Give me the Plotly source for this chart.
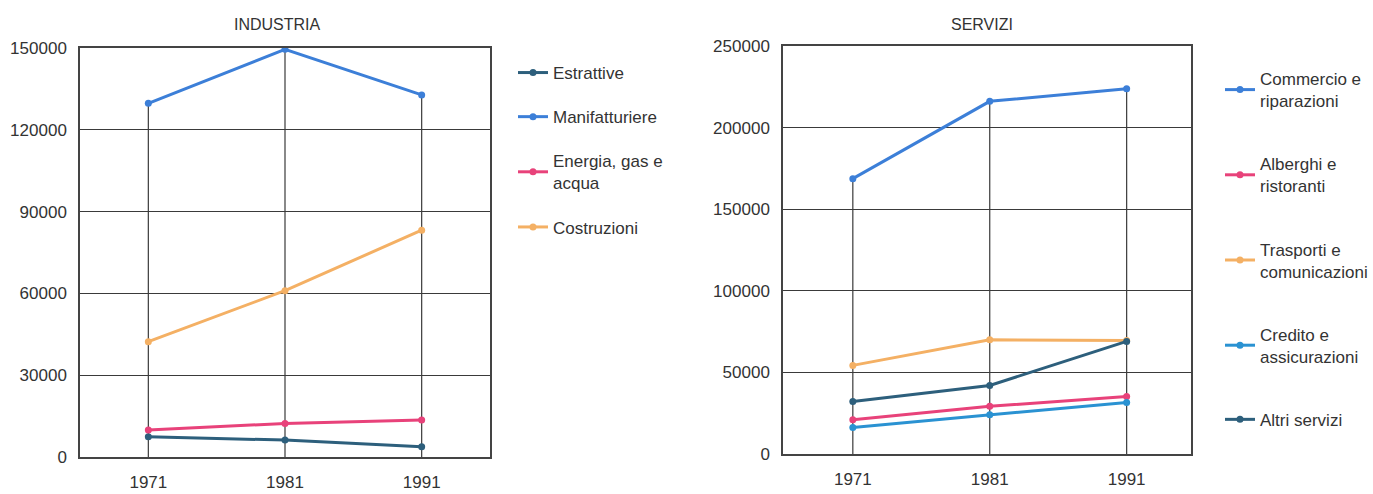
import plotly.graph_objects as go

# ---------------- data ----------------
years = [1971, 1981, 1991]

ind_names = ["Estrattive", "Manifatturiere", "Energia, gas e<br>acqua", "Costruzioni"]
estrattive = [7400, 6200, 3800]
manifatturiere = [129700, 149500, 132800]
energia = [9900, 12300, 13600]
costruzioni = [42300, 61000, 83200]

ser_names = ["Commercio e<br>riparazioni", "Alberghi e<br>ristoranti", "Trasporti e<br>comunicazioni",
             "Credito e<br>assicurazioni", "Altri servizi"]
commercio = [168700, 216100, 223800]
alberghi = [21000, 29200, 35300]
trasporti = [54300, 70000, 69600]
credito = [16300, 24100, 31600]
altri = [32200, 42000, 69000]

ind_ticks = [0, 30000, 60000, 90000, 120000, 150000]
ser_ticks = [0, 50000, 100000, 150000, 200000, 250000]

# ---------------- style ----------------
FONT = "Liberation Sans, Arial, sans-serif"
TXT = "#333333"
GRID = "#3a3a3a"
C_DARK = "#2d5f7c"
C_BLUE = "#3c7fd8"
C_PINK = "#e8427a"
C_ORANGE = "#f4b064"
C_CYAN = "#2a92d2"

W, H = 1373, 494

fig = go.Figure()


def droplines(series_list, xa, ya):
    xs, ys = [], []
    for i, yr in enumerate(years):
        top = max(s[i] for s in series_list)
        xs += [yr, yr, None]
        ys += [0, top, None]
    fig.add_trace(go.Scatter(x=xs, y=ys, mode="lines", xaxis=xa, yaxis=ya,
                             line=dict(color=GRID, width=1.2), showlegend=False,
                             hoverinfo="skip"))


# left panel
ind_series = [estrattive, manifatturiere, energia, costruzioni]
ind_colors = [C_DARK, C_BLUE, C_PINK, C_ORANGE]
droplines(ind_series, "x", "y")
for name, s, c in zip(ind_names, ind_series, ind_colors):
    fig.add_trace(go.Scatter(x=years, y=s, name=name, mode="lines+markers",
                             line=dict(color=c, width=3), marker=dict(color=c, size=7),
                             xaxis="x", yaxis="y", legend="legend", legendgroup=name))

# right panel
ser_series = [commercio, alberghi, trasporti, credito, altri]
ser_colors = [C_BLUE, C_PINK, C_ORANGE, C_CYAN, C_DARK]
droplines(ser_series, "x2", "y2")
for name, s, c in zip(ser_names, ser_series, ser_colors):
    fig.add_trace(go.Scatter(x=years, y=s, name=name, mode="lines+markers",
                             line=dict(color=c, width=3), marker=dict(color=c, size=7),
                             xaxis="x2", yaxis="y2", legend="legend2", legendgroup=name))


def px_x(p):
    return p / W


def px_y(p):
    return 1 - p / H


axis_common = dict(showline=True, mirror=True, linecolor="#444444", linewidth=1.5,
                   ticks="", tickfont=dict(family=FONT, size=17, color=TXT), zeroline=False,
                   fixedrange=True, automargin=False)

fig.update_layout(
    width=W, height=H, autosize=False,
    margin=dict(l=0, r=0, t=0, b=0),
    paper_bgcolor="white", plot_bgcolor="white",
    font=dict(family=FONT, size=17, color=TXT),
    xaxis=dict(domain=[px_x(80), px_x(490)], range=[1966.0, 1996.0], tickvals=years,
               showgrid=False, anchor="y", ticklabelstandoff=9, **axis_common),
    yaxis=dict(domain=[px_y(457), px_y(48)], range=[0, 150000], tickvals=ind_ticks,
               tickformat="d", showgrid=True, gridcolor=GRID, gridwidth=1, anchor="x",
               ticklabelstandoff=8, **axis_common),
    xaxis2=dict(domain=[px_x(783), px_x(1191)], range=[1965.9, 1995.7], tickvals=years,
                showgrid=False, anchor="y2", ticklabelstandoff=9, **axis_common),
    yaxis2=dict(domain=[px_y(454), px_y(46)], range=[0, 250000], tickvals=ser_ticks,
                tickformat="d", showgrid=True, gridcolor=GRID, gridwidth=1, anchor="x2",
                ticklabelstandoff=8, **axis_common),
    legend=dict(x=px_x(513), y=px_y(55), xanchor="left", yanchor="top",
                traceorder="grouped", tracegroupgap=19, itemwidth=30,
                font=dict(family=FONT, size=17, color=TXT), bgcolor="rgba(0,0,0,0)"),
    legend2=dict(x=px_x(1220), y=px_y(61), xanchor="left", yanchor="top",
                 traceorder="grouped", tracegroupgap=38, itemwidth=30,
                 font=dict(family=FONT, size=17, color=TXT), bgcolor="rgba(0,0,0,0)"),
    annotations=[
        dict(text="INDUSTRIA", x=px_x(277), y=px_y(24), xref="paper", yref="paper",
             xanchor="center", yanchor="middle",
             showarrow=False, font=dict(family=FONT, size=16, color=TXT)),
        dict(text="SERVIZI", x=px_x(982), y=px_y(24), xref="paper", yref="paper",
             xanchor="center", yanchor="middle",
             showarrow=False, font=dict(family=FONT, size=16, color=TXT)),
    ],
    showlegend=True,
)

fig.write_html("out.html", config={"displayModeBar": False},
               post_script="document.body.style.margin='0';")
